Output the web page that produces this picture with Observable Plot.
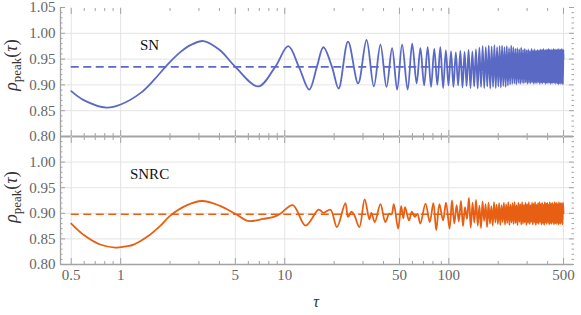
<!DOCTYPE html>
<html><head><meta charset="utf-8">
<script src="https://cdn.jsdelivr.net/npm/d3@7"></script>
<script src="https://cdn.jsdelivr.net/npm/@observablehq/plot@0.6"></script>
<style>
body{margin:0;background:#fff;}
#chart{position:relative;width:581px;height:315px;overflow:hidden;background:#fff;}
#chart svg{position:absolute;left:0;}
</style></head><body><div id="chart"></div>
<script>
// ---- data: [tau, rho_peak] ----
const snPoints = [
[0.5,0.888],[0.6,0.870],[0.82,0.856],[1.0,0.862],[1.32,0.884],[1.6,0.910],[1.9,0.937],[2.3,0.963],[2.7,0.978],[3.2,0.985],
[4.0,0.968],[5.0,0.935],[6.9,0.897],[8.75,0.935],[10.5,0.975],[12.2,0.935],[14.1,0.891],[15.7,0.935],[17.2,0.973],[19.4,0.935],[21.3,0.893],
[24.3,0.984],[28.0,0.903],[31.5,0.987],[34.9,0.897],[38.3,0.978],[41.7,0.896],[45.1,0.971],[48.4,0.891],[51.9,0.978],[56.1,0.891],
[59.8,0.980],[63.6,0.903],[67.1,0.971],[70.7,0.899],[74.3,0.973],[77.9,0.896],[81.5,0.970],[85.1,0.900],[88.7,0.973],[92.3,0.894],
[95.9,0.967],[99.5,0.899],[103.1,0.965],[106.7,0.896],[110.3,0.963],[113.9,0.899],[117.5,0.966],[121.1,0.895],[124.7,0.964],[128.3,0.898],
[131.9,0.968],[135.5,0.894],[139.1,0.965],[142.7,0.897],[146.3,0.969],[149.9,0.893],[153.5,0.972],[157.1,0.896],[160.7,0.975],[164.3,0.894],
[167.9,0.973],[171.5,0.897],[175.1,0.976],[178.7,0.893],[182.3,0.974],[185.9,0.896],[189.5,0.977],[193.1,0.894],[196.7,0.973],[200.3,0.897],
[203.9,0.975],[207.5,0.895],[211.1,0.976],[214.7,0.898],[218.3,0.973],[221.9,0.896],[225.5,0.975],[229.1,0.899],[232.7,0.971],[236.3,0.901],
[239.9,0.976],[243.5,0.902],[247.1,0.973],[250.7,0.903],[254.3,0.970],[257.9,0.901],[261.5,0.971],[265.1,0.904],[268.7,0.969],[272.3,0.902],
[275.9,0.972],[279.5,0.904],[283.1,0.968],[286.7,0.903],[290.3,0.970],[293.9,0.905],[297.5,0.967],[301.1,0.902],[304.7,0.969],[308.3,0.904],
[311.9,0.966],[315.5,0.903],[319.1,0.970],[322.7,0.905],[326.3,0.967],[329.9,0.902],[333.5,0.969],[337.1,0.904],[340.7,0.966],[344.3,0.903],
[347.9,0.968],[351.5,0.905],[355.1,0.967],[358.7,0.902],[362.3,0.969],[365.9,0.904],[369.5,0.968],[373.1,0.903],[376.7,0.970],[380.3,0.905],
[383.9,0.967],[387.5,0.902],[391.1,0.969],[394.7,0.904],[398.3,0.968],[401.9,0.903],[405.5,0.970],[409.1,0.905],[412.7,0.968],[416.3,0.902],
[419.9,0.969],[423.5,0.904],[427.1,0.967],[430.7,0.903],[434.3,0.970],[437.9,0.905],[441.5,0.968],[445.1,0.902],[448.7,0.969],[452.3,0.904],
[455.9,0.968],[459.5,0.903],[463.1,0.970],[466.7,0.901],[470.3,0.969],[473.9,0.904],[477.5,0.968],[481.1,0.902],[484.7,0.970],[488.3,0.903],
[491.9,0.969],[495.5,0.901],[499.1,0.968],[500,0.950]
];
const snrcPoints = [
[0.5,0.880],[0.6,0.857],[0.75,0.839],[0.93,0.833],[1.0,0.834],[1.2,0.839],[1.45,0.854],[1.75,0.876],[2.0,0.895],[2.5,0.915],[3.13,0.924],[4.0,0.915],
[5.0,0.899],[6.0,0.885],[7.4,0.889],[8.6,0.893],[9.4,0.899],[11.2,0.916],[13.4,0.876],[16.1,0.907],[17.2,0.901],[19.0,0.907],
[20.8,0.873],[23.4,0.920],[24.3,0.893],[25.5,0.903],[26.5,0.897],[28.5,0.873],[30.7,0.927],[32.8,0.888],[33.7,0.901],[35.4,0.883],
[38.3,0.918],[41.0,0.883],[43.3,0.899],[44.8,0.898],[46.2,0.918],[49.1,0.870],[51.2,0.914],[52.8,0.890],[54.1,0.912],[57.2,0.886],
[59.5,0.903],[62.1,0.893],[64.4,0.899],[67.0,0.880],[72.1,0.919],[76.5,0.883],[80.5,0.920],[83.8,0.867],[87.6,0.918],[92.2,0.886],
[96.1,0.921],[101,0.870],[104.5,0.925],[108,0.880],[111.5,0.916],[115,0.884],[118.5,0.924],[122,0.875],[125.5,0.912],[129,0.889],
[132.5,0.930],[136,0.872],[139.5,0.921],[143,0.882],[146.5,0.926],[150,0.876],[153.5,0.915],[157,0.871],[160.5,0.923],[164,0.885],
[167.5,0.918],[171,0.873],[174.5,0.921],[178,0.880],[181.5,0.914],[185,0.876],[188.5,0.922],[192,0.882],[195.5,0.917],[199,0.879],
[202.5,0.920],[206,0.877],[209.5,0.916],[213,0.883],[216.5,0.921],[220,0.878],[223.5,0.918],[227,0.881],[230.5,0.922],[234,0.877],
[237.5,0.917],[241,0.882],[244.5,0.920],[248,0.879],[251.5,0.922],[255,0.881],[258.5,0.916],[262,0.877],[265.5,0.921],[269,0.883],
[272.5,0.918],[276,0.878],[279.5,0.922],[283,0.880],[286.5,0.917],[290,0.882],[293.5,0.921],[297,0.877],[300.5,0.918],[304,0.881],
[307.5,0.922],[311,0.879],[314.5,0.916],[318,0.883],[321.5,0.921],[325,0.878],[328.5,0.919],[332,0.882],[335.5,0.922],[339,0.877],
[342.5,0.917],[346,0.881],[349.5,0.920],[353,0.879],[356.5,0.922],[360,0.883],[363.5,0.918],[367,0.878],[370.5,0.921],[374,0.881],
[377.5,0.917],[381,0.877],[384.5,0.922],[388,0.882],[391.5,0.919],[395,0.879],[398.5,0.921],[402,0.883],[405.5,0.917],[409,0.878],
[412.5,0.922],[416,0.881],[419.5,0.918],[423,0.879],[426.5,0.921],[430,0.883],[433.5,0.917],[437,0.878],[440.5,0.922],[444,0.881],
[447.5,0.919],[451,0.879],[454.5,0.921],[458,0.882],[461.5,0.917],[465,0.878],[468.5,0.922],[472,0.881],[475.5,0.918],[479,0.879],
[482.5,0.921],[486,0.883],[489.5,0.917],[493,0.878],[496.5,0.921],[500,0.900]
];
const seriesNames = ["SN", "SNRC"];
const seriesMeans = [0.935, 0.898];
const xMajorTicks = [0.5, 1, 5, 10, 50, 100, 500];
const xMinorTicks = [0.6,0.7,0.8,0.9,2,3,4,6,7,8,9,20,30,40,60,70,80,90,200,300,400];
const yMajorTicks = [0.80, 0.85, 0.90, 0.95, 1.00, 1.05];
const yMinorTicks = [0.81,0.82,0.83,0.84,0.86,0.87,0.88,0.89,0.91,0.92,0.93,0.94,0.96,0.97,0.98,0.99,1.01,1.02,1.03,1.04];
const yGridTicks = [0.85, 0.90, 0.95, 1.00];
const topYLabels = [0.80, 0.85, 0.90, 0.95, 1.00, 1.05];
const bottomYLabels = [0.80, 0.85, 0.90, 0.95, 1.00];
const xTickLabels = ["0.5", "1", "5", "10", "50", "100", "500"];

// ---- styling ----
const FONT = "'Liberation Serif', 'DejaVu Serif', serif";
const TICK = "#a3a3a3";
const GRID = "#e4e4e4";
const LABEL = "#666";
const colors = ["#5a69c4", "#e75f12"];
const xDomain = [0.43, 575];
const yDomain = [0.80, 1.05];

function panel(i, {height, mt, mb, yLabels, xLabels}) {
  const pts = i === 0 ? snPoints : snrcPoints;
  const data = pts.map(([t, r]) => ({t, r}));
  const [t0, t1] = d3.extent(pts, d => d[0]);
  const tk = (anchor, ticks, size, isX) => (isX ? Plot.axisX : Plot.axisY)(ticks, {
    anchor, tickSize: size, stroke: TICK, fill: "none", label: null
  });
  const marks = [
    Plot.gridX(xMajorTicks, {stroke: GRID, strokeOpacity: 1, strokeWidth: 1}),
    Plot.gridY(yGridTicks, {stroke: GRID, strokeOpacity: 1, strokeWidth: 1}),
    Plot.ruleY([seriesMeans[i]], {x1: t0, x2: t1, stroke: colors[i], strokeWidth: 1.6, strokeDasharray: "8,4.5"}),
    Plot.line(data, {x: "t", y: "r", stroke: colors[i], strokeWidth: 1.8, curve: "catmull-rom"}),
    Plot.text([seriesNames[i]], {x: 1.5, y: 0.977, fontSize: 15, fill: "#111", fontFamily: FONT}),
    tk("left", yMajorTicks, -5, false), tk("left", yMinorTicks, -2.5, false),
    tk("right", yMajorTicks, -5, false), tk("right", yMinorTicks, -2.5, false),
    tk("bottom", xMajorTicks, -6, true), tk("bottom", xMinorTicks, -3, true),
    tk("top", xMajorTicks, -6, true), tk("top", xMinorTicks, -3, true),
    Plot.ruleX([xDomain[0]], {stroke: TICK, strokeWidth: 1.3}),
    Plot.ruleY([yDomain[0]], {stroke: TICK, strokeWidth: i === 0 ? 2 : 1.5}),
    Plot.axisY(yLabels, {anchor: "left", tickSize: 0, tickPadding: 5, tickFormat: d3.format(".2f"), fill: LABEL, fontSize: 15, label: null})
  ];
  if (xLabels) marks.push(Plot.text(xMajorTicks, {
    x: d => d, text: (d, j) => xTickLabels[j], frameAnchor: "bottom", lineAnchor: "top", dy: 5,
    fill: LABEL, fontSize: 15, fontFamily: FONT
  }));
  return Plot.plot({
    width: 581, height,
    marginLeft: 60, marginRight: 8, marginTop: mt, marginBottom: mb,
    style: {background: "transparent", fontFamily: FONT, overflow: "visible"},
    x: {type: "log", domain: xDomain},
    y: {domain: yDomain},
    marks
  });
}

function yLabel(svg, x, y) {
  const t = d3.select(svg).append("text")
    .attr("transform", `translate(${x},${y}) rotate(-90)`)
    .attr("text-anchor", "middle").attr("font-family", FONT).attr("font-size", 18).attr("fill", "#333");
  t.append("tspan").attr("font-style", "italic").text("ρ");
  t.append("tspan").attr("font-size", 13).attr("dy", 4).text("peak");
  t.append("tspan").attr("dy", -4).text("(");
  t.append("tspan").attr("font-style", "italic").text("τ");
  t.append("tspan").text(")");
}

const chartDiv = document.getElementById("chart");
const topSvg = panel(0, {height: 140, mt: 7, mb: 4, yLabels: topYLabels, xLabels: false});
topSvg.style.top = "0px";
const botSvg = panel(1, {height: 183, mt: 4, mb: 51, yLabels: bottomYLabels, xLabels: true});
botSvg.style.top = "132px";
chartDiv.appendChild(topSvg);
chartDiv.appendChild(botSvg);
yLabel(topSvg, 17, 65);
yLabel(botSvg, 17, 65);
d3.select(botSvg).append("text").attr("x", 316).attr("y", 175).attr("text-anchor", "middle")
  .attr("font-family", FONT).attr("font-size", 16).attr("font-style", "italic").attr("fill", "#333").text("τ");
</script></body></html>
